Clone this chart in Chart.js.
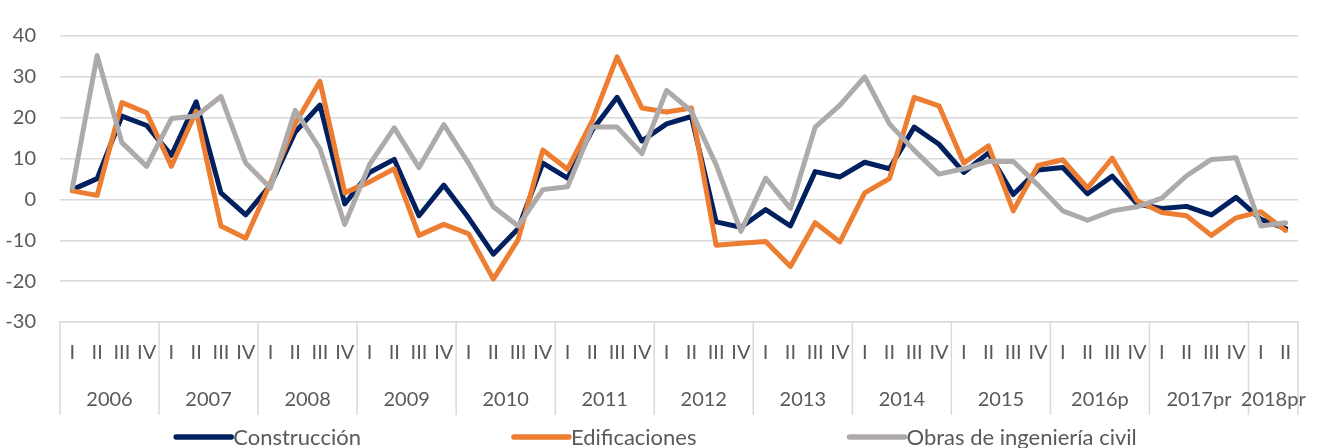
<!DOCTYPE html>
<html>
<head>
<meta charset="utf-8">
<script src="https://cdn.jsdelivr.net/npm/chart.js@4/dist/chart.umd.min.js"></script>
<style>
  html, body { margin: 0; padding: 0; background: #ffffff; }
  #wrap { position: relative; width: 1324px; height: 448px; }
</style>
</head>
<body>
<div id="wrap"><canvas id="c" width="1324" height="448"></canvas></div>
<script>
// ---- Data ----
const years = ['2006','2007','2008','2009','2010','2011','2012','2013','2014','2015','2016p','2017pr','2018pr'];
const quartersPerYear = [4,4,4,4,4,4,4,4,4,4,4,4,2];
const quarterNames = ['I','II','III','IV'];

const construccion = [2.4, 5.1, 20.4, 18.1, 10.8, 23.9, 1.6, -3.8, 3.5, 16.5,
  23.1, -1.1, 6.6, 9.8, -4.0, 3.5, -4.5, -13.4, -7.2, 8.9,
  5.2, 17.0, 25.0, 14.3, 18.5, 20.3, -5.5, -6.8, -2.5, -6.5,
  6.8, 5.5, 9.1, 7.5, 17.7, 13.5, 6.6, 11.4, 1.2, 7.2,
  7.8, 1.4, 5.7, -1.1, -2.2, -1.7, -3.8, 0.5, -4.9, -7.1];
const edificaciones = [2.1, 1.0, 23.7, 21.2, 8.1, 21.6, -6.5, -9.5, 4.0, 18.5,
  28.9, 1.6, 4.3, 7.5, -8.8, -6.1, -8.4, -19.5, -9.9, 12.1,
  7.4, 19.3, 34.9, 22.4, 21.4, 22.4, -11.2, -10.7, -10.3, -16.4,
  -5.7, -10.4, 1.6, 5.1, 25.0, 22.9, 8.9, 13.1, -2.8, 8.3,
  9.7, 2.8, 10.1, -0.3, -3.2, -4.0, -8.8, -4.5, -3.0, -7.6];
const obras = [2.8, 35.2, 13.9, 8.1, 19.8, 20.4, 25.2, 8.9, 2.8, 21.8,
  12.4, -6.1, 8.5, 17.5, 7.8, 18.3, 8.9, -1.8, -6.5, 2.4,
  3.1, 17.7, 17.7, 11.2, 26.7, 21.6, 8.5, -7.8, 5.2, -2.2,
  17.7, 23.1, 30.0, 18.5, 12.0, 6.2, 7.5, 9.3, 9.3, 3.5,
  -2.8, -5.1, -2.8, -1.8, 0.3, 5.8, 9.8, 10.2, -6.5, -5.7];
const seriesNames = ['Construcción', 'Edificaciones', 'Obras de ingeniería civil'];
const yMin = -30, yMax = 40, yStep = 10;

// ---- Build labels ----
const labels = [];
years.forEach((y, i) => { for (let q = 0; q < quartersPerYear[i]; q++) labels.push(quarterNames[q]); });

const FONT = 'Lato, "Open Sans", sans-serif';
const TXT = '#595959';
const GRID = '#d9d9d9';
const colors = ['#002060', '#ED7D31', '#AEAAAA'];

const yearPlugin = {
  id: 'yearGroups',
  afterDraw(chart) {
    const ctx = chart.ctx;
    const xs = chart.scales.x;
    const area = chart.chartArea;
    const half = (xs.getPixelForValue(1) - xs.getPixelForValue(0)) / 2;
    ctx.save();
    ctx.strokeStyle = GRID;
    ctx.lineWidth = 1.5;
    let start = 0;
    const bounds = [];
    years.forEach((y, i) => {
      bounds.push(xs.getPixelForValue(start) - half);
      start += quartersPerYear[i];
    });
    bounds.push(xs.getPixelForValue(start - 1) + half);
    bounds.forEach(b => {
      ctx.beginPath();
      ctx.moveTo(b, area.bottom);
      ctx.lineTo(b, area.bottom + 93);
      ctx.stroke();
    });
    ctx.fillStyle = TXT;
    ctx.font = '20px ' + FONT;
    ctx.textAlign = 'center';
    ctx.textBaseline = 'middle';
    years.forEach((y, i) => {
      ctx.fillText(y, (bounds[i] + bounds[i + 1]) / 2, area.bottom + 78);
    });
    // legend
    ctx.font = '22px ' + FONT;
    ctx.textAlign = 'left';
    const lineLen = 60, gap = 150;
    const widths = seriesNames.map(n => lineLen + ctx.measureText(n).width);
    const total = widths.reduce((a, b) => a + b, 0) + gap * (widths.length - 1);
    let x = 655 - total / 2;
    const ly = 437;
    seriesNames.forEach((n, i) => {
      ctx.strokeStyle = colors[i];
      ctx.lineWidth = 5.5;
      ctx.lineCap = 'round';
      ctx.beginPath();
      ctx.moveTo(x + 3, ly);
      ctx.lineTo(x + lineLen - 2, ly);
      ctx.stroke();
      ctx.fillStyle = TXT;
      ctx.fillText(n, x + lineLen, ly + 1);
      x += widths[i] + gap;
    });
    ctx.restore();
  }
};

const mk = (label, data, color, order) => ({
  label, data, borderColor: color, backgroundColor: color,
  borderWidth: 5, pointRadius: 0, pointHoverRadius: 0, tension: 0,
  borderCapStyle: 'round', borderJoinStyle: 'round', fill: false, order
});

new Chart(document.getElementById('c'), {
  type: 'line',
  data: {
    labels,
    datasets: [
      mk(seriesNames[0], construccion, colors[0], 3),
      mk(seriesNames[1], edificaciones, colors[1], 2),
      mk(seriesNames[2], obras, colors[2], 1)
    ]
  },
  options: {
    responsive: false,
    animation: false,
    devicePixelRatio: 1,
    layout: { padding: { top: 18, right: 26, left: 0, bottom: 26 } },
    plugins: { legend: { display: false }, tooltip: { enabled: false } },
    scales: {
      x: {
        type: 'category',
        offset: true,
        grid: { display: false, drawTicks: false },
        border: { display: true, color: GRID, width: 1.5 },
        ticks: { autoSkip: false, maxRotation: 0, minRotation: 0, color: TXT, padding: 19,
          font: { family: FONT, size: 20 } },
        afterFit(s) { s.height = 100; }
      },
      y: {
        min: yMin, max: yMax,
        grid: { color: GRID, lineWidth: 1.5, drawTicks: false },
        border: { display: false },
        ticks: { stepSize: yStep, color: TXT, padding: 24, font: { family: FONT, size: 20 } },
        afterFit(s) { s.width = 60; }
      }
    }
  },
  plugins: [yearPlugin]
});
</script>
</body>
</html>
